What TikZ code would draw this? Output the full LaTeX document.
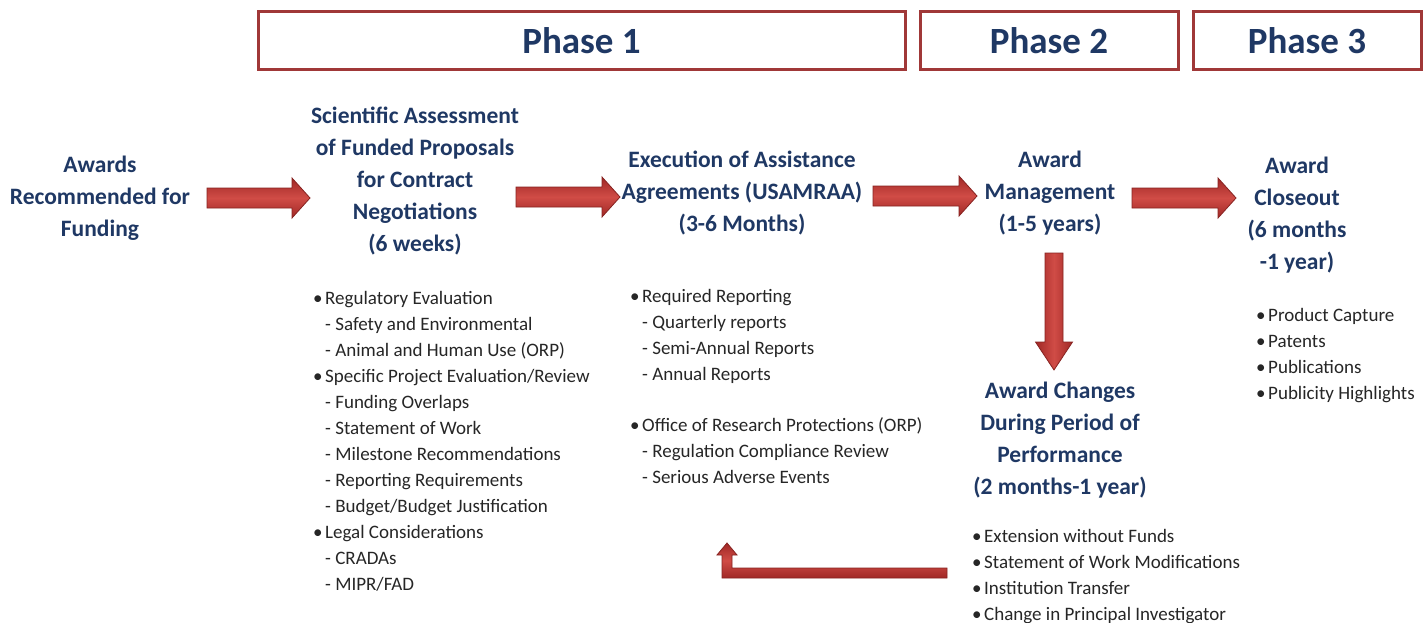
\documentclass[tikz,border=0pt]{standalone}
\usepackage{fontspec}
\setmainfont{Carlito}
\usetikzlibrary{calc}
\definecolor{navy}{RGB}{31,56,100}
\definecolor{phaseborder}{RGB}{160,56,56}
\definecolor{arrowmid}{RGB}{208,76,70}
\definecolor{arrowdark}{RGB}{160,40,38}
\definecolor{arrowedge}{RGB}{135,35,33}
\definecolor{bodytext}{RGB}{38,38,38}
\newcommand{\bitem}[1]{\strut\makebox[12pt][l]{\textbullet}#1}
\newcommand{\ditem}[1]{\strut\hspace*{12pt}- #1}
\begin{document}
\begin{tikzpicture}[x=1pt,y=-1pt,
  phasebox/.style={draw=phaseborder,line width=3pt,minimum height=58pt,inner sep=0pt,
    text=navy,font=\bfseries\fontsize{37}{40}\selectfont},
  heading/.style={align=center,text=navy,inner sep=0pt,
    font=\bfseries\fontsize{23.5}{32}\selectfont},
  bodylist/.style={align=left,anchor=north west,inner sep=0pt,text=bodytext,
    font=\fontsize{19}{26}\selectfont},
  arrowfill/.style={draw=arrowedge,line width=0.8pt,top color=arrowdark,bottom color=arrowdark,middle color=arrowmid},
  harrow/.style={arrowfill,to path={let \p1=(\tikztostart),\p2=(\tikztotarget) in
    (\x1,\y1+10pt) -- (\x2-18pt,\y1+10pt) -- (\x2-18pt,\y1+20pt) -- (\x2,\y1)
    -- (\x2-18pt,\y1-20pt) -- (\x2-18pt,\y1-10pt) -- (\x1,\y1-10pt) -- cycle}},
  varrow/.style={draw=arrowedge,line width=0.8pt,left color=arrowdark,right color=arrowdark,middle color=arrowmid,
    to path={let \p1=(\tikztostart),\p2=(\tikztotarget) in
    (\x1-9pt,\y1) -- (\x1-9pt,\y2+28pt) -- (\x1-18.5pt,\y2+28pt) -- (\x1,\y2)
    -- (\x1+18.5pt,\y2+28pt) -- (\x1+9pt,\y2+28pt) -- (\x1+9pt,\y1) -- cycle}},
  rarrow/.style={arrowfill,to path={let \p1=(\tikztostart),\p2=(\tikztotarget) in
    (\x1,\y1+5pt) -- (\x2+5pt,\y1+5pt) -- (\x2+5pt,\y2-12pt) -- (\x2+10pt,\y2-12pt) -- (\x2,\y2)
    -- (\x2-10pt,\y2-12pt) -- (\x2-5pt,\y2-12pt) -- (\x2-5pt,\y1-5pt) -- (\x1,\y1-5pt) -- cycle}}
]
\useasboundingbox[fill=white] (0,0) rectangle (1424,623);

% phase boxes
\node[phasebox,minimum width=647pt] (ph1) at (581.5,41) {Phase 1};
\node[phasebox,minimum width=258pt] (ph2) at (1049,41) {Phase 2};
\node[phasebox,minimum width=228pt] (ph3) at (1307,41) {Phase 3};

% headings
\node[heading] (aw) at (100,198) {Awards\\Recommended for\\Funding};
\node[heading] (sci) at (415,181) {Scientific Assessment\\of Funded Proposals\\for Contract\\Negotiations\\(6 weeks)};
\node[heading] (exe) at (742,193) {Execution of Assistance\\Agreements (USAMRAA)\\(3-6 Months)};
\node[heading] (mgmt) at (1050,193) {Award\\Management\\(1-5 years)};
\node[heading] (close) at (1297,215) {Award\\Closeout\\(6 months\\-1 year)};
\node[heading] (chg) at (1060,440) {Award Changes\\During Period of\\Performance\\(2 months-1 year)};

% lists
\node[bodylist] (l1) at (313,286) {\bitem{Regulatory Evaluation}\\
  \ditem{Safety and Environmental}\\
  \ditem{Animal and Human Use (ORP)}\\
  \bitem{Specific Project Evaluation/Review}\\
  \ditem{Funding Overlaps}\\
  \ditem{Statement of Work}\\
  \ditem{Milestone Recommendations}\\
  \ditem{Reporting Requirements}\\
  \ditem{Budget/Budget Justification}\\
  \bitem{Legal Considerations}\\
  \ditem{CRADAs}\\
  \ditem{MIPR/FAD}};
\node[bodylist] (l2) at (630,284) {\bitem{Required Reporting}\\
  \ditem{Quarterly reports}\\
  \ditem{Semi-Annual Reports}\\
  \ditem{Annual Reports}\\[25pt]
  \bitem{Office of Research Protections (ORP)}\\
  \ditem{Regulation Compliance Review}\\
  \ditem{Serious Adverse Events}};
\node[bodylist] (l3) at (1256,303) {\bitem{Product Capture}\\
  \bitem{Patents}\\
  \bitem{Publications}\\
  \bitem{Publicity Highlights}};
\node[bodylist] (l4) at (972,524) {\bitem{Extension without Funds}\\
  \bitem{Statement of Work Modifications}\\
  \bitem{Institution Transfer}\\
  \bitem{Change in Principal Investigator}};

% arrow end points
\coordinate (a1s) at (207,198); \coordinate (a1e) at (310,198);
\coordinate (a2s) at (516,197); \coordinate (a2e) at (620,197);
\coordinate (a3s) at (873,196); \coordinate (a3e) at (977,196);
\coordinate (a4s) at (1132,198); \coordinate (a4e) at (1236,198);
\coordinate (dns) at (1054,253); \coordinate (dne) at (1054,370);
\coordinate (rs) at (947,573); \coordinate (re) at (727,543);

\path[harrow] (a1s) to (a1e);
\path[harrow] (a2s) to (a2e);
\path[harrow] (a3s) to (a3e);
\path[harrow] (a4s) to (a4e);
\path[varrow] (dns) to (dne);
\path[rarrow] (rs) to (re);
\end{tikzpicture}
\end{document}
